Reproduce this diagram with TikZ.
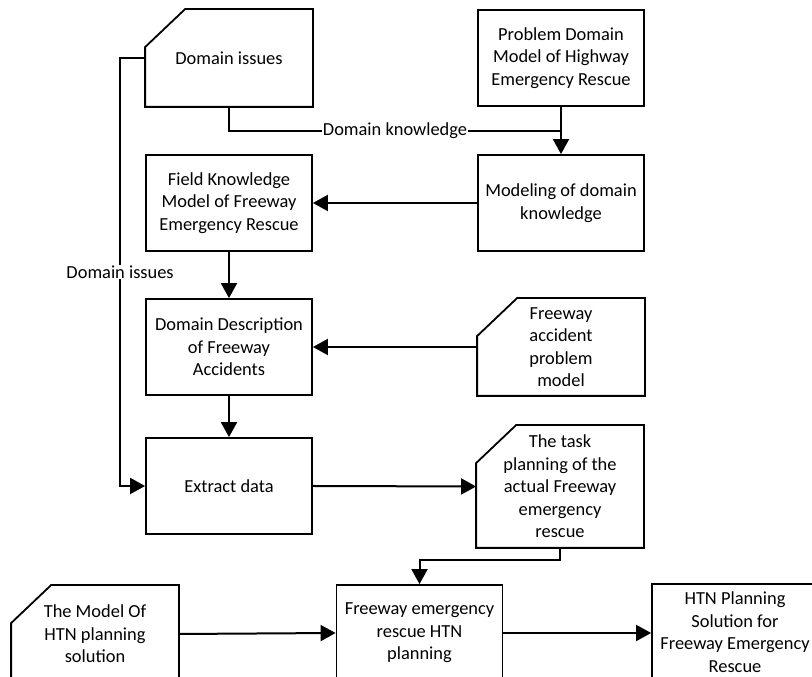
\documentclass[tikz,border=0pt]{standalone}
\usepackage{fontspec}
\setmainfont{Carlito}
\usetikzlibrary{arrows.meta}

\tikzset{
  box/.style={draw, line width=1.8pt, minimum width=166pt, minimum height=96pt,
    inner sep=0pt, align=center, font=\fontsize{18.4}{22.5}\selectfont},
  card/.style={box, draw=none},
  link/.style={line width=2pt, -{Triangle[length=15pt,width=16pt]}},
  line/.style={line width=2pt},
  lab/.style={fill=white, inner sep=1pt, font=\fontsize{18.4}{22.5}\selectfont}
}
% outline of a card node: box with the top left corner cut off
\newcommand{\cardedge}[1]{%
  \draw[line width=1.8pt, line join=miter] (#1.north east) -- (#1.south east) -- (#1.south west)
    -- ([yshift=-38pt]#1.north west) -- ([xshift=40pt]#1.north west) -- cycle;}

\begin{document}
\begin{tikzpicture}[x=1pt, y=1pt]
  \clip (0,0) rectangle (812,677);

  % top row
  \node[card] (issues) at (229,619) {Domain issues};
  \cardedge{issues}
  \node[box] (pdm) at (561,619) {Problem Domain\\Model of Highway\\Emergency Rescue};

  % domain model
  \node[box] (modeling) at (561,474) {Modeling of domain\\knowledge};
  \node[box] (field) at (229,474) {Field Knowledge\\Model of Freeway\\Emergency Rescue};

  % accident description
  \node[box] (desc) at (229,330) {Domain Description\\of Freeway\\Accidents};
  \node[card] (accmodel) at (561,330) {Freeway\\accident\\problem\\model};
  \cardedge{accmodel}

  % data and task
  \node[box] (extract) at (229,191) {Extract data};
  \node[card, minimum height=121pt] (task) at (560,190.5)
    {The task\\planning of the\\actual Freeway\\emergency\\rescue};
  \cardedge{task}

  % bottom row
  \node[card] (htnmodel) at (95,43) {The Model Of\\HTN planning\\solution};
  \cardedge{htnmodel}
  \node[box] (htn) at (419.5,44) {Freeway emergency\\rescue HTN\\planning};
  \node[box] (sol) at (735,45) {HTN Planning\\Solution for\\Freeway Emergency\\Rescue};

  % connectors
  \coordinate (kjoin) at (561,546);
  \draw[link] (pdm) -- (modeling);
  \draw[line] (issues.south) |- node[lab, pos=0.75] {Domain knowledge} (kjoin);
  \draw[link] (issues.west) -- ++(-25,0) |- node[lab, pos=0.25] {Domain issues} (extract.west);
  \draw[link] (modeling) -- (field);
  \draw[link] (field) -- (desc);
  \draw[link] (desc) -- (extract);
  \draw[link] (accmodel.west) -- (desc.east);
  \draw[link] (extract.east) -- (task.west);
  \draw[link] (task.south) -- ++(0,-12) -| (htn.north);
  \draw[link] (htnmodel.east) -- (htn.west);
  \draw[link] (htn.east) -- (sol.west |- htn.east);
\end{tikzpicture}
\end{document}
